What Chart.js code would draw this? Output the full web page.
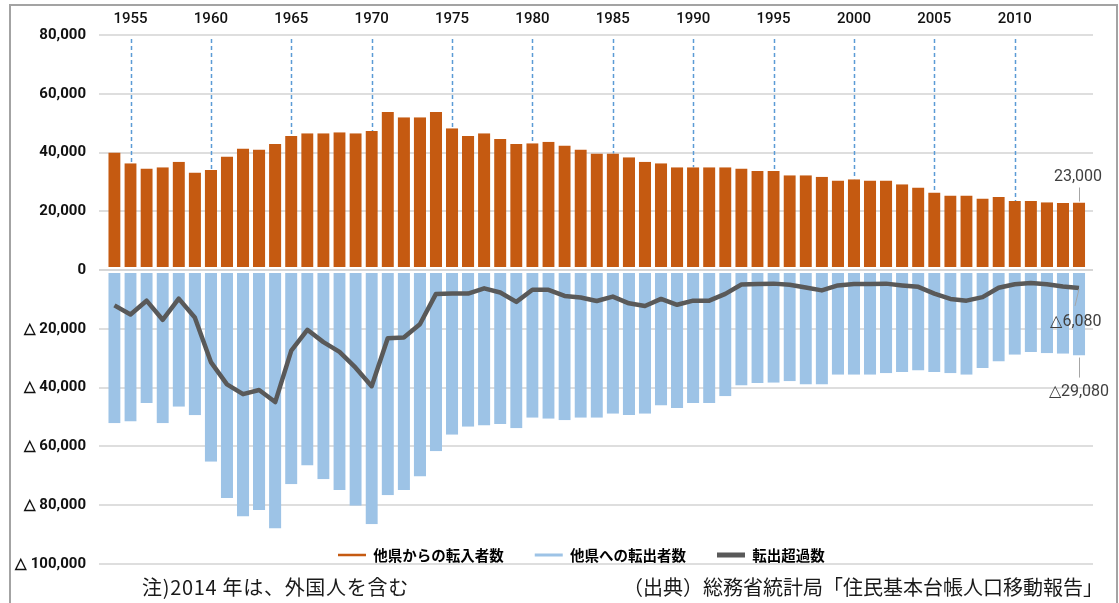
<!DOCTYPE html>
<html><head><meta charset="utf-8">
<script src="https://cdn.jsdelivr.net/npm/chart.js@4"></script>
<style>
html,body{margin:0;padding:0;background:#fff;width:1119px;height:603px;overflow:hidden;}
#wrap{position:relative;width:1119px;height:603px;}
#frame{position:absolute;left:9px;top:4px;width:1109px;height:660px;border:2px solid #a3a3a3;box-sizing:border-box;}
canvas{position:absolute;left:0;top:0;}
.note{position:absolute;top:576px;font-family:"Noto Sans CJK JP";font-size:20px;line-height:22px;color:#1a1a1a;white-space:nowrap;}
</style></head>
<body>
<div id="wrap">
<div id="frame"></div>
<canvas id="c" width="1119" height="603"></canvas>
<div class="note" id="noteL" style="left:142px;letter-spacing:0.7px;"></div>
<div class="note" id="noteR" style="left:623px;"></div>
</div>
<script>
const years = [1954,1955,1956,1957,1958,1959,1960,1961,1962,1963,1964,1965,1966,1967,1968,1969,1970,1971,1972,1973,1974,1975,1976,1977,1978,1979,1980,1981,1982,1983,1984,1985,1986,1987,1988,1989,1990,1991,1992,1993,1994,1995,1996,1997,1998,1999,2000,2001,2002,2003,2004,2005,2006,2007,2008,2009,2010,2011,2012,2013,2014];
const inflow = [40000,36400,34600,35000,36900,33200,34100,38700,41400,41000,42900,45600,46600,46600,46900,46600,47300,53800,52000,52000,53800,48300,45600,46600,44600,42900,43200,43700,42400,41000,39700,39700,38400,36900,36400,35000,35000,35000,35000,34600,33700,33700,32300,32300,31800,30500,30900,30500,30500,29200,28100,26400,25400,25400,24400,24900,23500,23500,23100,22800,23000];
const outflow = [-52100,-51500,-45200,-52100,-46500,-49400,-65200,-77500,-83800,-81600,-87900,-72900,-66500,-71200,-74800,-80200,-86500,-76600,-74800,-70200,-61600,-56000,-53300,-52900,-52400,-53800,-50200,-50600,-51100,-50200,-50200,-48900,-49300,-48900,-46100,-46900,-45200,-45200,-42900,-39300,-38400,-38300,-37800,-38900,-38900,-35600,-35600,-35600,-35100,-34700,-34200,-34700,-35100,-35600,-33300,-31100,-28800,-27900,-28300,-28500,-29080];
const netMigration = [-12000,-15100,-10400,-16900,-9700,-16100,-31300,-38900,-42200,-40800,-44900,-27400,-20300,-24500,-27800,-33200,-39500,-23200,-22900,-18400,-8100,-8000,-8000,-6200,-7600,-10800,-6700,-6700,-8800,-9300,-10500,-9000,-11300,-12200,-9800,-11800,-10400,-10400,-8100,-4900,-4700,-4600,-5000,-5900,-6900,-5200,-4700,-4700,-4600,-5200,-5700,-8000,-9800,-10400,-9200,-6000,-4800,-4400,-4800,-5600,-6080];
const yearTicks = [1955,1960,1965,1970,1975,1980,1985,1990,1995,2000,2005,2010];
const yTickValues = [80000,60000,40000,20000,0,-20000,-40000,-60000,-80000,-100000];
const seriesNames = ['他県からの転入者数','他県への転出者数','転出超過数'];
const noteLeft = '注)2014 年は、外国人を含む';
const noteRight = '（出典）総務省統計局「住民基本台帳人口移動報告」';

document.getElementById('noteL').textContent = noteLeft;
document.getElementById('noteR').textContent = noteRight;

const COL_IN = '#c55a11', COL_OUT = '#9dc3e6', COL_NET = '#595959';
const fmtAxis = v => v === 0 ? '0' : (v < 0 ? '△ ' : '') + Math.abs(v).toLocaleString('en-US');
const fmtLabel = v => (v < 0 ? '△' : '') + Math.abs(v).toLocaleString('en-US');
const pts = arr => years.map((yr, i) => ({x: yr, y: arr[i]}));

const dropLines = {
  id: 'dropLines',
  beforeDatasetsDraw(chart) {
    const {ctx, chartArea, scales: {x, y}} = chart;
    ctx.save();
    ctx.strokeStyle = '#5b9bd5'; ctx.lineWidth = 1.5; ctx.setLineDash([4, 3]);
    yearTicks.forEach(yr => {
      const i = years.indexOf(yr);
      const px = Math.round(x.getPixelForValue(yr)) + 0.5;
      ctx.beginPath();
      ctx.moveTo(px, chartArea.top + 4);
      ctx.lineTo(px, y.getPixelForValue(inflow[i]));
      ctx.stroke();
    });
    ctx.restore();
  }
};

const zeroLine = {
  id: 'zeroLine',
  afterDatasetsDraw(chart) {
    const {ctx, chartArea, scales: {y}} = chart;
    const py = y.getPixelForValue(0);
    ctx.save();
    ctx.strokeStyle = '#d6d6d6'; ctx.lineWidth = 2;
    ctx.beginPath(); ctx.moveTo(chartArea.left, py); ctx.lineTo(chartArea.right, py); ctx.stroke();
    ctx.restore();
  }
};

const endLabels = {
  id: 'endLabels',
  afterDraw(chart) {
    const {ctx, scales: {x, y}} = chart;
    const n = years.length - 1;
    const px = x.getPixelForValue(years[n]);
    const yIn = y.getPixelForValue(inflow[n]);
    const yNet = y.getPixelForValue(netMigration[n]);
    const yOut = y.getPixelForValue(outflow[n]);
    ctx.save();
    ctx.strokeStyle = '#a6a6a6'; ctx.lineWidth = 1;
    ctx.beginPath(); ctx.moveTo(px + 0.5, yIn - 15); ctx.lineTo(px + 0.5, yIn - 1); ctx.stroke();
    ctx.beginPath(); ctx.moveTo(px, yNet + 1); ctx.lineTo(px - 4, yNet + 18); ctx.stroke();
    ctx.beginPath(); ctx.moveTo(px + 0.5, yOut + 2); ctx.lineTo(px + 0.5, yOut + 22); ctx.stroke();
    ctx.fillStyle = '#404040';
    ctx.font = '16px Roboto';
    ctx.textAlign = 'center'; ctx.textBaseline = 'middle';
    ctx.fillText(fmtLabel(inflow[n]), px - 1, yIn - 26);
    ctx.fillText(fmtLabel(netMigration[n]), px - 3, yNet + 34);
    ctx.fillText(fmtLabel(outflow[n]), px, yOut + 36);
    ctx.restore();
  }
};

const moveLegend = {
  id: 'moveLegend',
  beforeDraw(chart) {
    const lg = chart.legend;
    const pad = lg.options.labels.padding;
    lg.left = 338 - pad;
    lg.top = 555 - pad - 14.5 / 2;
  }
};

new Chart(document.getElementById('c'), {
  data: {
    datasets: [
      {type: 'bar', label: seriesNames[0], data: pts(inflow), backgroundColor: COL_IN,
       borderColor: '#ffffff', borderWidth: {top: 0, left: 0, right: 0, bottom: 2}, borderSkipped: false,
       grouped: false, barPercentage: 0.765, categoryPercentage: 1, order: 2},
      {type: 'bar', label: seriesNames[1], data: pts(outflow), backgroundColor: COL_OUT,
       borderColor: '#ffffff', borderWidth: {top: 2, left: 0, right: 0, bottom: 0}, borderSkipped: false,
       grouped: false, barPercentage: 0.765, categoryPercentage: 1, order: 2},
      {type: 'line', label: seriesNames[2], data: pts(netMigration), borderColor: COL_NET,
       borderWidth: 4.5, pointRadius: 0, tension: 0, fill: false, order: 0, borderJoinStyle: 'round'}
    ]
  },
  options: {
    responsive: false,
    devicePixelRatio: 1,
    animation: false,
    layout: {padding: {left: 0, right: 26, top: 0, bottom: 0}},
    scales: {
      x: {
        type: 'linear', position: 'top', min: 1953.04, max: 2014.87, offset: false,
        afterBuildTicks: s => { s.ticks = yearTicks.map(v => ({value: v})); },
        afterFit: s => { s.height = 35; },
        grid: {display: false, drawTicks: false, offset: false},
        border: {display: false},
        ticks: {padding: 7, maxRotation: 0, autoSkip: false, color: '#111111',
                font: {family: 'Roboto', size: 15, weight: '500'}, callback: v => String(v)}
      },
      y: {
        min: -100000, max: 80000,
        afterBuildTicks: s => { s.ticks = yTickValues.map(v => ({value: v})); },
        afterFit: s => { s.width = 99; },
        grid: {color: '#dedede', lineWidth: 2, drawTicks: false},
        border: {display: false},
        ticks: {padding: 13, color: '#111111', font: {family: 'Roboto', size: 15, weight: 'bold'},
                callback: v => fmtAxis(v)}
      }
    },
    plugins: {
      tooltip: {enabled: false},
      legend: {
        position: 'bottom', align: 'start', maxHeight: 39,
        labels: {
          usePointStyle: true, pointStyleWidth: 28, padding: 31,
          color: '#595959', font: {family: '"Noto Sans CJK JP"', size: 14.5, weight: 'bold'},
          generateLabels: () => [
            {text: seriesNames[0], fillStyle: COL_IN, strokeStyle: COL_IN, lineWidth: 2.5, pointStyle: 'line', hidden: false, datasetIndex: 0},
            {text: seriesNames[1], fillStyle: COL_OUT, strokeStyle: COL_OUT, lineWidth: 3, pointStyle: 'line', hidden: false, datasetIndex: 1},
            {text: seriesNames[2], fillStyle: COL_NET, strokeStyle: COL_NET, lineWidth: 5, pointStyle: 'line', hidden: false, datasetIndex: 2}
          ]
        }
      }
    }
  },
  plugins: [dropLines, zeroLine, endLabels, moveLegend]
});
</script>
</body></html>
